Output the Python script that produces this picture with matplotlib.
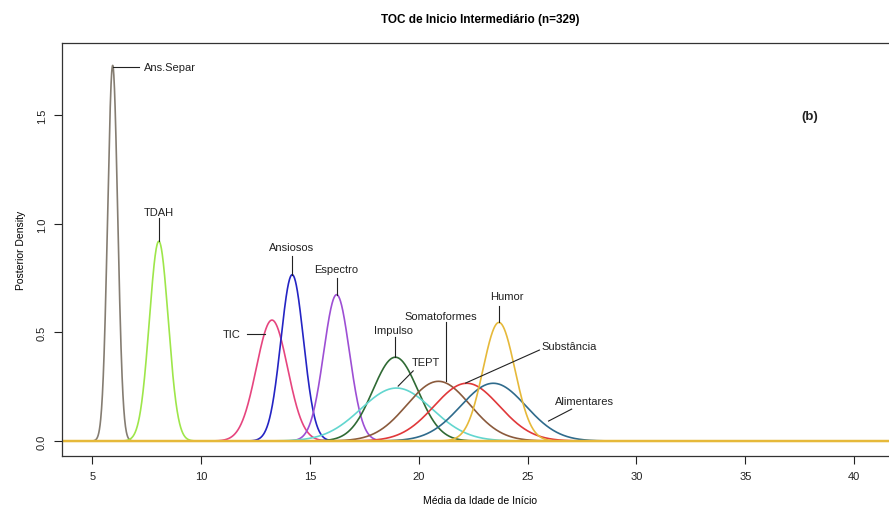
import numpy as np
import matplotlib.pyplot as plt

plt.rcParams['font.family'] = ['Liberation Sans', 'DejaVu Sans']

# Posterior densities (normal approximation) for mean age of onset
grupos = ['Ans.Separ', 'TDAH', 'TIC', 'Ansiosos', 'Espectro', 'Impulso',
          'TEPT', 'Somatoformes', 'Substância', 'Alimentares', 'Humor']
medias = [5.93, 8.05, 13.25, 14.18, 16.22, 18.92, 18.97, 20.90, 22.20, 23.42, 23.68]
picos = [1.73, 0.92, 0.557, 0.766, 0.674, 0.386, 0.244, 0.275, 0.266, 0.266, 0.546]
cores = ['#857d72', '#9ee64a', '#e6457f', '#2424c4', '#9d4fd4', '#2f6a34',
         '#62d6cf', '#8a5a3c', '#e0383a', '#2f6b8c', '#e6b93a']

# label text position and leader line (start -> end on the curve)
texto_xy = [(7.36, 1.724), (8.07, 1.055), (11.81, 0.493), (14.16, 0.894),
            (16.22, 0.793), (18.82, 0.512), (20.30, 0.364), (20.99, 0.576),
            (26.93, 0.438), (27.62, 0.184), (24.05, 0.668)]
texto_ha = ['left', 'center', 'right', 'center', 'center', 'center',
            'center', 'center', 'center', 'center', 'center']
linha_ini = [(7.15, 1.724), (8.05, 1.028), (12.09, 0.493), (14.18, 0.853),
             (16.22, 0.751), (18.92, 0.479), (19.74, 0.323), (21.27, 0.548),
             (25.54, 0.419), (27.02, 0.147), (23.68, 0.622)]
linha_fim = [(5.93, 1.724), (8.05, 0.92), (12.93, 0.493), (14.18, 0.766),
             (16.22, 0.674), (18.92, 0.386), (19.05, 0.253), (21.27, 0.276),
             (22.15, 0.267), (25.96, 0.092), (23.68, 0.546)]

x = np.linspace(3.6, 42.5, 4000)

fig = plt.figure(figsize=(8.89, 5.10), dpi=100)
ax = fig.add_axes([0.0697, 0.1039, 0.94, 0.8098])

for m, p, c in zip(medias, picos, cores):
    s = 1.0 / (p * np.sqrt(2 * np.pi))
    y = np.exp(-0.5 * ((x - m) / s) ** 2) / (s * np.sqrt(2 * np.pi))
    ax.plot(x, y, color=c, lw=1.2)

# the last curve (Humor) covers the baseline, slightly heavier there
ax.plot(x, np.zeros_like(x), color=cores[-1], lw=1.8)

for nome, txy, ha, a, b in zip(grupos, texto_xy, texto_ha, linha_ini, linha_fim):
    ax.plot([a[0], b[0]], [a[1], b[1]], color='#222222', lw=0.8)
    ax.text(txy[0], txy[1], nome, ha=ha, va='center', fontsize=8, color='#222222')

ax.text(37.96, 1.498, '(b)', ha='center', va='center', fontsize=9.5,
        fontweight='bold', color='#222222')

ax.set_xlim(3.6, 42.0)
ax.set_ylim(-0.069, 1.833)
ax.set_xticks([5, 10, 15, 20, 25, 30, 35, 40])
ax.set_yticks([0.0, 0.5, 1.0, 1.5])
ax.set_yticklabels(['0.0', '0.5', '1.0', '1.5'], rotation=90, va='center')
ax.tick_params(direction='out', length=6, width=0.8, labelsize=8, colors='#222222', pad=5)
for sp in ax.spines.values():
    sp.set_color('#333333')
    sp.set_linewidth(0.9)

ax.set_title('TOC de Inicio Intermediário (n=329)', fontsize=8.5, fontweight='bold', pad=15)
ax.set_xlabel('Média da Idade de Início', fontsize=7.5, labelpad=10)
ax.set_ylabel('Posterior Density', fontsize=7.5, labelpad=8)

fig.savefig('out.png', dpi=100)
